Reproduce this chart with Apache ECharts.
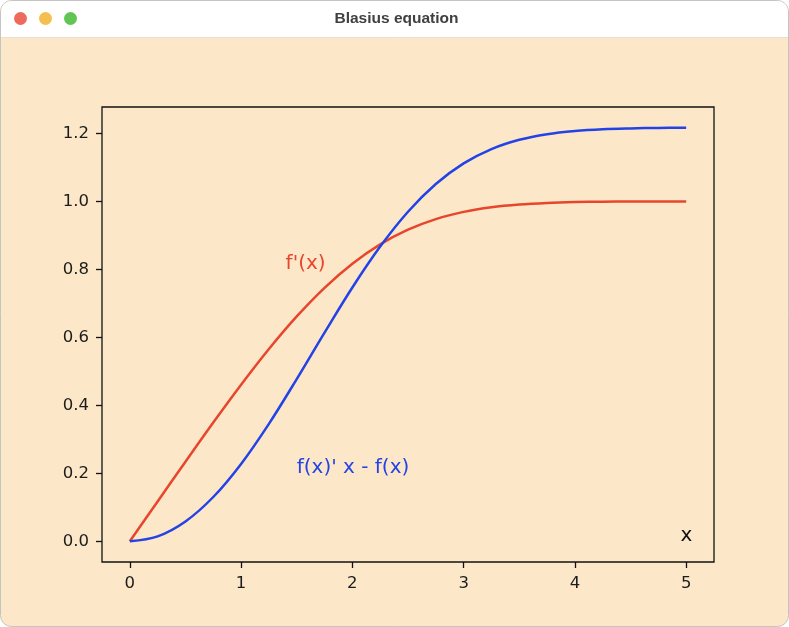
<!DOCTYPE html>
<html>
<head>
<meta charset="utf-8">
<title>Blasius equation</title>
<script src="https://cdn.jsdelivr.net/npm/echarts@6/dist/echarts.min.js"></script>
<style>
  html, body { margin: 0; padding: 0; background: #ffffff; }
  #chart { width: 789px; height: 627px; }
</style>
</head>
<body>
<div id="chart"></div>
<script>
// Blasius boundary layer f''' + f f'' = 0, sampled on a regular grid
const xs = [0, 0.25, 0.5, 0.75, 1, 1.25, 1.5, 1.75, 2, 2.25, 2.5, 2.75, 3, 3.25, 3.5, 3.75, 4, 4.25, 4.5, 4.75, 5];
const fPrime = [0, 0.1174, 0.2342, 0.3494, 0.4606, 0.5656, 0.6615, 0.7458, 0.8167, 0.8736, 0.9168, 0.9479, 0.9691, 0.9826, 0.9907, 0.9953, 0.9978, 0.9990, 0.9996, 0.9998, 0.9999];
const xfpMinusF = [0, 0.0147, 0.0585, 0.1304, 0.2277, 0.3456, 0.4772, 0.6139, 0.7467, 0.8671, 0.9696, 1.0511, 1.1116, 1.1537, 1.1811, 1.1977, 1.2071, 1.2123, 1.2147, 1.2160, 1.2164];

const xTicks = [0, 1, 2, 3, 4, 5];
const yTicks = [0.0, 0.2, 0.4, 0.6, 0.8, 1.0, 1.2];

const windowTitle = 'Blasius equation';
const annotations = [
  { text: "f'(x)", at: [1.4, 0.8], color: '#e8452d' },
  { text: "f(x)' x - f(x)", at: [1.5, 0.2], color: '#2343e6' },
  { text: 'x', at: [4.95, 0.0], color: '#111111' }
];

const RED = '#e8452d';
const BLUE = '#2343e6';
const BG = '#fce8c8';
const W = 789, H = 627;

const chart = echarts.init(document.getElementById('chart'), null, { renderer: 'canvas', width: W, height: H });

const tickFont = { fontFamily: 'DejaVu Sans', fontSize: 16.5, color: '#1c1c1c' };

// window chrome behind the plot
function chromeElements() {
  return [
    { type: 'rect', id: 'win', z: -10, shape: { x: 0.5, y: 0.5, width: W - 1, height: H - 1, r: 11 },
      style: { fill: BG, stroke: '#c4c4c4', lineWidth: 1 } },
    { type: 'rect', id: 'titlebar', z: -9, shape: { x: 1, y: 1, width: W - 2, height: 36, r: [10, 10, 0, 0] },
      style: { fill: '#ffffff' } },
    { type: 'line', id: 'titlesep', z: -8, shape: { x1: 1, y1: 37.5, x2: W - 1, y2: 37.5 },
      style: { stroke: '#eadfcd', lineWidth: 1 } },
    { type: 'circle', id: 'tl-close', z: -8, shape: { cx: 20.5, cy: 18.5, r: 6.5 }, style: { fill: '#ee6a5f' } },
    { type: 'circle', id: 'tl-min', z: -8, shape: { cx: 45.5, cy: 18.5, r: 6.5 }, style: { fill: '#f5bf4f' } },
    { type: 'circle', id: 'tl-max', z: -8, shape: { cx: 70.5, cy: 18.5, r: 6.5 }, style: { fill: '#61c554' } },
    { type: 'text', id: 'wtitle', z: -8, x: W / 2 + 2, y: 18.5,
      style: { text: windowTitle, fontFamily: 'Liberation Sans', fontWeight: 'bold', fontSize: 15.5,
               fill: '#404040', align: 'center', verticalAlign: 'middle' } }
  ];
}

chart.setOption({
  animation: false,
  backgroundColor: 'transparent',
  grid: {
    left: 102, right: 75, top: 107, bottom: 65,
    show: true, borderColor: '#111111', borderWidth: 1.3, backgroundColor: 'transparent',
    outerBoundsMode: 'none'
  },
  xAxis: {
    type: 'value', min: -0.25, max: 5.25,
    axisLine: { show: false, onZero: false },
    splitLine: { show: false },
    axisTick: { show: true, inside: false, length: 6, lineStyle: { color: '#111111', width: 1.3 }, customValues: xTicks },
    axisLabel: Object.assign({ margin: 13, customValues: xTicks, formatter: v => String(Math.round(v)) }, tickFont)
  },
  yAxis: {
    type: 'value', min: -0.0608, max: 1.2776,
    axisLine: { show: false, onZero: false },
    splitLine: { show: false },
    axisTick: { show: true, inside: false, length: 6, lineStyle: { color: '#111111', width: 1.3 }, customValues: yTicks },
    axisLabel: Object.assign({ margin: 13, customValues: yTicks, formatter: v => v.toFixed(1) }, tickFont)
  },
  series: [
    {
      name: "f'(x)", type: 'line', showSymbol: false, smooth: 0.35,
      data: xs.map((x, i) => [x, fPrime[i]]),
      lineStyle: { color: RED, width: 2.5 }, itemStyle: { color: RED }, z: 3
    },
    {
      name: "f(x)' x - f(x)", type: 'line', showSymbol: false, smooth: 0.35,
      data: xs.map((x, i) => [x, xfpMinusF[i]]),
      lineStyle: { color: BLUE, width: 2.5 }, itemStyle: { color: BLUE }, z: 4
    }
  ],
  graphic: { elements: chromeElements() }
});

// text labels placed in data coordinates (anchored at the baseline's left end)
const labelEls = annotations.map((a, i) => {
  const p = chart.convertToPixel({ gridIndex: 0 }, a.at);
  return {
    type: 'text', id: 'ann' + i, z: 10, x: p[0], y: p[1] + 4,
    style: { text: a.text, fontFamily: 'DejaVu Sans', fontSize: 20, fill: a.color, align: 'left', verticalAlign: 'bottom' }
  };
});
chart.setOption({ graphic: { elements: chromeElements().concat(labelEls) } });
</script>
</body>
</html>
